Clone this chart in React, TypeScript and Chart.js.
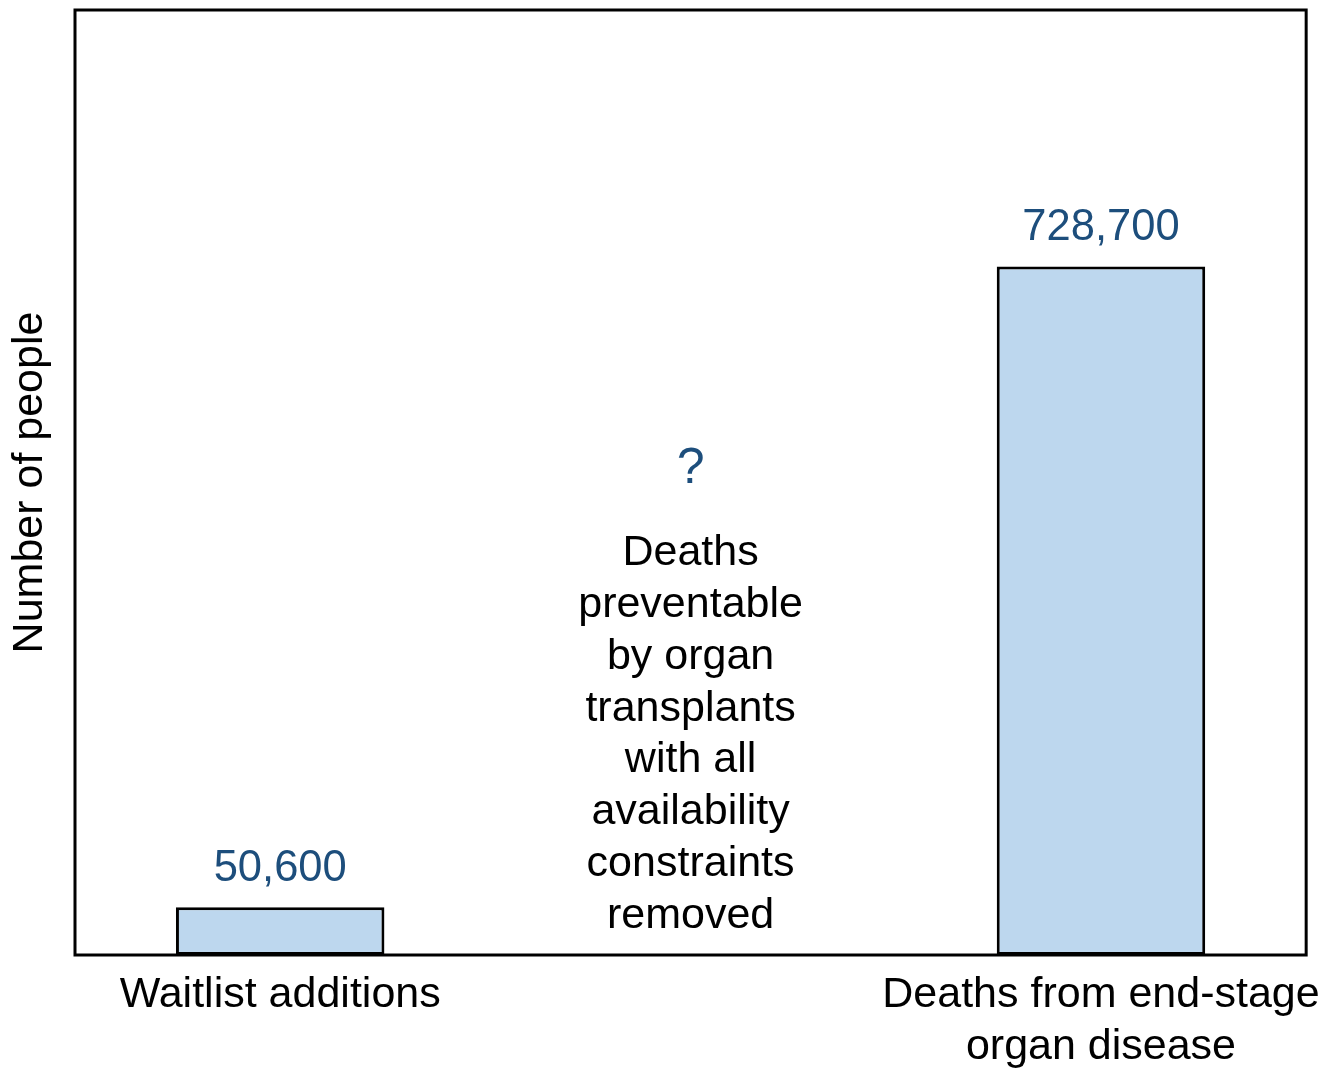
import React, { useEffect, useRef } from "react";
import { Chart, registerables } from "chart.js";

Chart.register(...registerables);

const categories: (string | string[])[] = [
  "Waitlist additions",
  "",
  ["Deaths from end-stage", "organ disease"],
];
const values: (number | null)[] = [50600, null, 728700];
const valueLabels: string[] = ["50,600", "", "728,700"];
const middleQuestion = "?";
const middleNote: string[] = [
  "Deaths",
  "preventable",
  "by organ",
  "transplants",
  "with all",
  "availability",
  "constraints",
  "removed",
];
const yTitle = "Number of people";
const yMax = 1000000;

const FONT = "'Liberation Sans', Arial, Helvetica, sans-serif";
const BLUE_TEXT = "#1d4e7c";
const BAR_FILL = "#bdd7ee";

const annotationPlugin = {
  id: "annotations",
  afterDatasetsDraw(chart: any) {
    const { ctx, chartArea } = chart;
    const meta = chart.getDatasetMeta(0);
    ctx.save();
    // frame box
    ctx.strokeStyle = "#000";
    ctx.lineWidth = 3;
    ctx.strokeRect(
      chartArea.left,
      chartArea.top,
      chartArea.right - chartArea.left,
      chartArea.bottom - chartArea.top
    );
    // value labels
    ctx.font = `43.5px ${FONT}`;
    ctx.fillStyle = BLUE_TEXT;
    ctx.textAlign = "center";
    ctx.textBaseline = "alphabetic";
    meta.data.forEach((bar: any, i: number) => {
      if (values[i] == null) return;
      ctx.fillText(valueLabels[i], bar.x, bar.y - 26);
    });
    // middle note
    const xs = chart.scales.x;
    const cx = xs.getPixelForValue(1);
    const lh = 51.8;
    ctx.font = `43px ${FONT}`;
    ctx.textBaseline = "middle";
    ctx.fillStyle = "#000";
    const lastY = chartArea.bottom - 39;
    middleNote.forEach((line, i) => {
      const y = lastY - (middleNote.length - 1 - i) * lh;
      ctx.fillText(line, cx, y);
    });
    const firstY = lastY - (middleNote.length - 1) * lh;
    ctx.font = `50px ${FONT}`;
    ctx.fillStyle = BLUE_TEXT;
    ctx.fillText(middleQuestion, cx, firstY - 84);
    ctx.restore();
  },
};

export default function App() {
  const ref = useRef<HTMLCanvasElement>(null);
  useEffect(() => {
    if (!ref.current) return;
    const chart = new Chart(ref.current, {
      type: "bar",
      data: {
        labels: categories,
        datasets: [
          {
            data: values,
            backgroundColor: BAR_FILL,
            borderColor: "#000",
            borderWidth: 3,
            borderSkipped: false,
            categoryPercentage: 0.508,
            barPercentage: 1.0,
          },
        ],
      },
      options: {
        responsive: false,
        animation: false,
        layout: { padding: { top: 10, right: 32, left: 0, bottom: 0 } },
        plugins: {
          legend: { display: false },
          tooltip: { enabled: false },
        },
        scales: {
          x: {
            grid: { display: false, drawTicks: false },
            border: { display: false },
            ticks: {
              autoSkip: false,
              maxRotation: 0,
              minRotation: 0,
              padding: 14,
              color: "#000",
              font: { family: FONT, size: 43, lineHeight: 1.21 },
            },
            afterFit: (s: any) => {
              s.height = 115;
            },
          },
          y: {
            min: 0,
            max: yMax,
            grid: { display: false, drawTicks: false },
            border: { display: false },
            ticks: { display: false },
            title: {
              display: true,
              text: yTitle,
              color: "#000",
              font: { family: FONT, size: 43 },
              padding: { top: 4, bottom: 0 },
            },
            afterFit: (s: any) => {
              s.width = 75;
            },
          },
        },
      },
      plugins: [annotationPlugin],
    });
    return () => chart.destroy();
  }, []);
  return (
    <div style={{ position: "absolute", left: 0, top: 0, background: "#fff" }}>
      <canvas ref={ref} width={1339} height={1070} style={{ display: "block" }} />
    </div>
  );
}
